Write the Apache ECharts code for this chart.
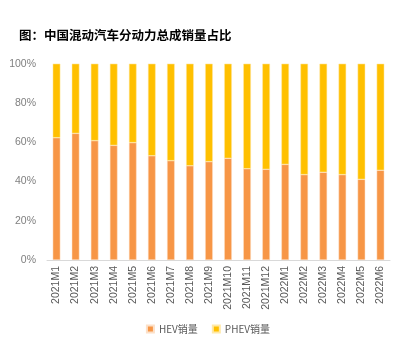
<!DOCTYPE html>
<html><head><meta charset="utf-8">
<script src="https://cdn.jsdelivr.net/npm/echarts@6/dist/echarts.min.js"></script>
<style>html,body{margin:0;padding:0;background:#fff}#c{width:416px;height:340px}</style>
</head><body><div id="c"></div>
<script>
const categories = ['2021M1','2021M2','2021M3','2021M4','2021M5','2021M6','2021M7','2021M8','2021M9','2021M10','2021M11','2021M12','2022M1','2022M2','2022M3','2022M4','2022M5','2022M6'];
const hevShare = [62.3,64.5,60.8,58.4,59.8,53.1,50.6,48.0,50.1,51.8,46.5,46.2,48.7,43.5,44.7,43.5,41.1,45.7];
const phevShare = hevShare.map(v => +(100 - v).toFixed(1));
const yTicks = [0,20,40,60,80,100];
const chart = echarts.init(document.getElementById('c'));
chart.setOption({
  animation: false,
  title: { text: '图：中国混动汽车分动力总成销量占比', left: 14, top: 24,
    textStyle: { fontSize: 12.5, fontWeight: 'bold', color: '#000', fontFamily: 'Noto Sans CJK SC' } },
  grid: { left: 47, right: 26, top: 63.7, bottom: 80 },
  legend: { bottom: 1, left: 'center', itemWidth: 7, itemHeight: 7, itemGap: 14,
    icon: 'rect', textStyle: { fontSize: 10, color: '#595959', fontFamily: 'Noto Sans CJK SC' },
    data: ['HEV销量','PHEV销量'] },
  xAxis: { type: 'category', data: categories,
    axisLine: { lineStyle: { color: '#d9d9d9' } }, axisTick: { show: false },
    axisLabel: { rotate: 90, fontSize: 10.5, color: '#595959', interval: 0, margin: 6 } },
  yAxis: { type: 'value', min: 0, max: 100, interval: 20,
    splitLine: { show: false }, axisLine: { show: false }, axisTick: { show: false },
    axisLabel: { fontSize: 10.5, color: '#7f7f7f', margin: 11, formatter: v => yTicks.includes(v) ? v + '%' : '' } },
  series: [
    { name: 'HEV销量', type: 'bar', stack: 's', data: hevShare, barWidth: '40%',
      itemStyle: { color: '#F79646', borderColor: '#fce0c8', borderWidth: 0.5 } },
    { name: 'PHEV销量', type: 'bar', stack: 's', data: phevShare, barWidth: '40%',
      itemStyle: { color: '#FFC000', borderColor: '#ffe9a8', borderWidth: 0.5 } }
  ]
});
</script></body></html>
